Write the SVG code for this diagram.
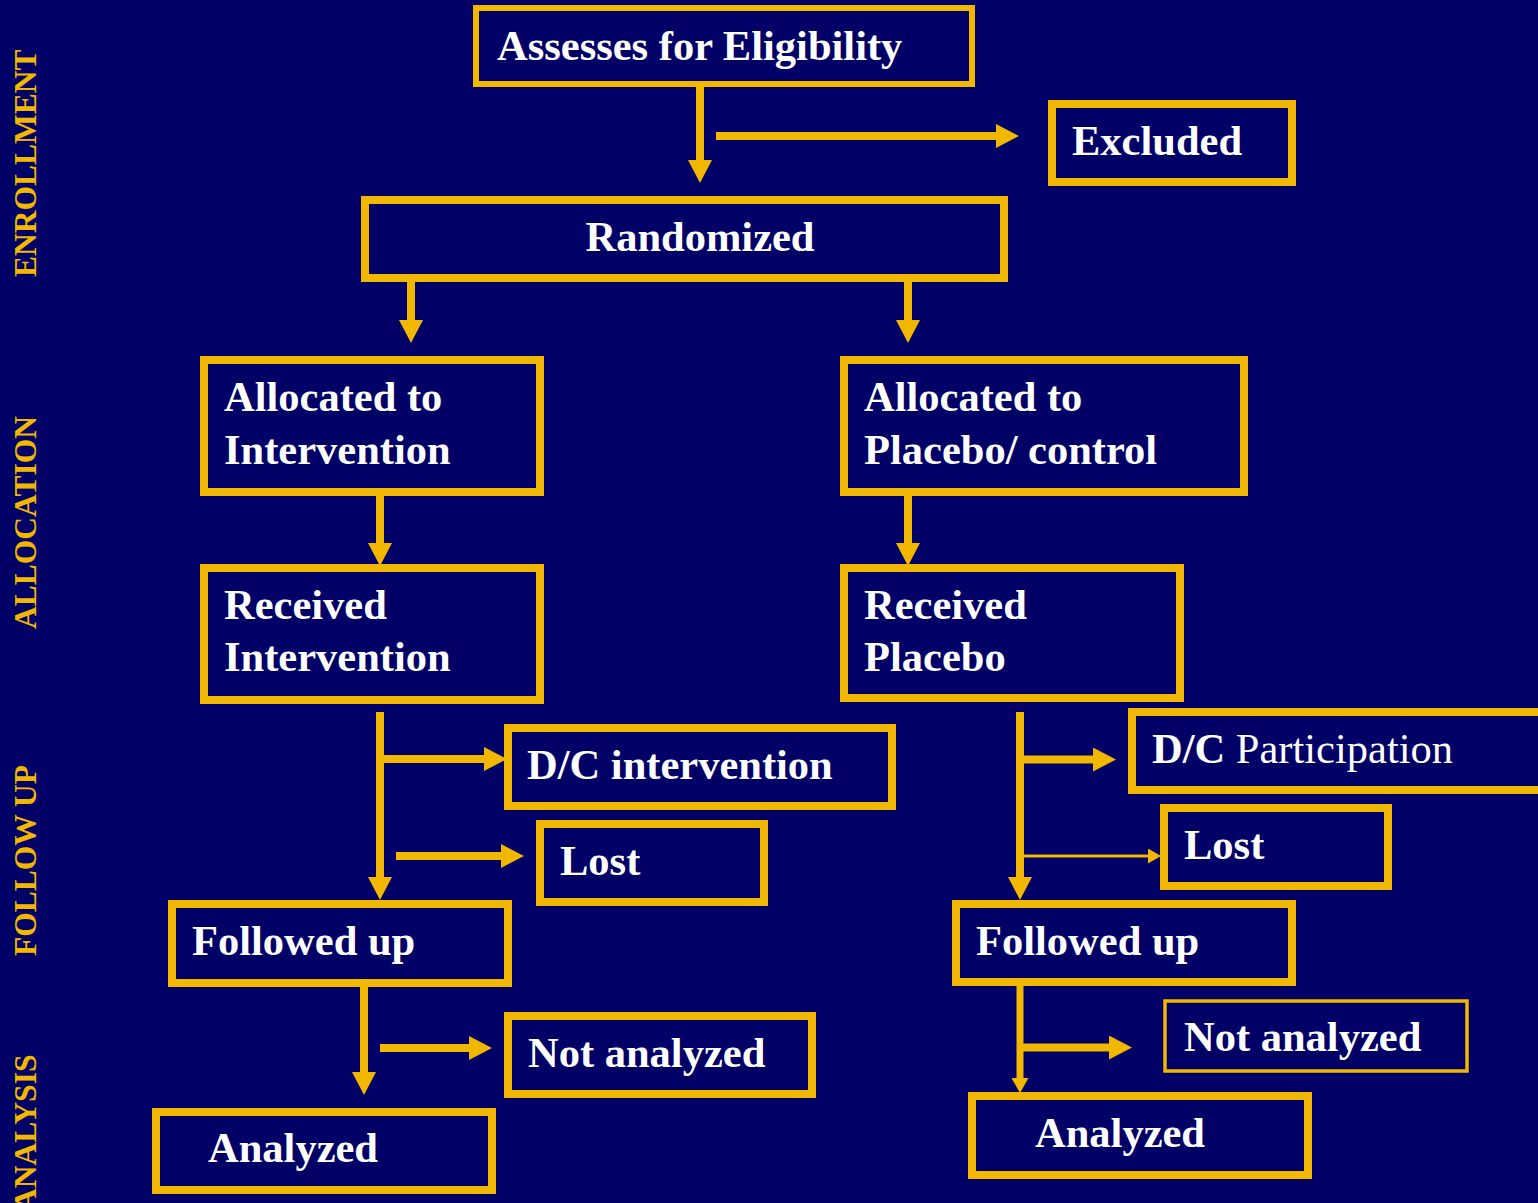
<svg xmlns="http://www.w3.org/2000/svg" width="1538" height="1203" viewBox="0 0 1538 1203">
<style>
.box{fill:#000066;stroke:#F2B800;stroke-width:8}
.t{font-family:"Liberation Serif","Times New Roman",serif;font-weight:bold;font-size:42.5px;fill:#FFFFFF}
.n{font-weight:normal}
.side{font-family:"Liberation Serif","Times New Roman",serif;font-weight:bold;font-size:31.5px;fill:#F2B800}
.c{stroke:#F2B800;stroke-width:8;fill:none}
</style>
<defs>
<marker id="ah" markerUnits="userSpaceOnUse" markerWidth="24" markerHeight="24" refX="1" refY="12" orient="auto">
<path d="M0,0 L23,12 L0,24 z" fill="#F2B800"/>
</marker>
<marker id="ahs" markerUnits="userSpaceOnUse" markerWidth="17" markerHeight="17" refX="1" refY="8.5" orient="auto">
<path d="M0,0 L15,8.5 L0,17 z" fill="#F2B800"/>
</marker>
<marker id="aht" markerUnits="userSpaceOnUse" markerWidth="15" markerHeight="15" refX="1" refY="7.5" orient="auto">
<path d="M0,0 L13,7.5 L0,15 z" fill="#F2B800"/>
</marker>
</defs>
<rect width="1538" height="1203" fill="#000066"/>
<g id="labels">
<text class="side" transform="translate(36,277) rotate(-90)">ENROLLMENT</text>
<text class="side" transform="translate(36,629) rotate(-90)">ALLOCATION</text>
<text class="side" transform="translate(36,956) rotate(-90)">FOLLOW UP</text>
<text class="side" transform="translate(36,1211) rotate(-90)">ANALYSIS</text>
</g>
<g id="connectors">
<line class="c" x1="700" y1="84" x2="700" y2="161" marker-end="url(#ah)"/>
<line class="c" x1="716" y1="136" x2="997" y2="136" marker-end="url(#ah)"/>
<line class="c" x1="411" y1="278" x2="411" y2="321" marker-end="url(#ah)"/>
<line class="c" x1="908" y1="278" x2="908" y2="321" marker-end="url(#ah)"/>
<line class="c" x1="380" y1="490" x2="380" y2="544" marker-end="url(#ah)"/>
<line class="c" x1="908" y1="490" x2="908" y2="544" marker-end="url(#ah)"/>
<line class="c" x1="380" y1="712" x2="380" y2="878" marker-end="url(#ah)"/>
<line class="c" x1="380" y1="759" x2="485" y2="759" marker-end="url(#ah)"/>
<line class="c" x1="396" y1="856" x2="502" y2="856" marker-end="url(#ah)"/>
<line class="c" x1="1020" y1="712" x2="1020" y2="878" marker-end="url(#ah)"/>
<line class="c" x1="1020" y1="759.5" x2="1094" y2="759.5" marker-end="url(#ah)"/>
<line class="c" style="stroke-width:3" x1="1020" y1="856" x2="1149" y2="856" marker-end="url(#aht)"/>
<line class="c" x1="364" y1="983" x2="364" y2="1073" marker-end="url(#ah)"/>
<line class="c" x1="380" y1="1048" x2="470" y2="1048" marker-end="url(#ah)"/>
<line class="c" style="stroke-width:7" x1="1020" y1="982" x2="1020" y2="1079" marker-end="url(#ahs)"/>
<line class="c" x1="1020" y1="1047.5" x2="1110" y2="1047.5" marker-end="url(#ah)"/>
</g>
<g id="assess"><rect class="box" style="stroke-width:6" x="476" y="8" width="496" height="76"/><text class="t" x="497" y="60">Assesses for Eligibility</text></g>
<g id="excluded"><rect class="box" x="1052" y="104" width="240" height="78"/><text class="t" x="1072" y="155">Excluded</text></g>
<g id="randomized"><rect class="box" x="365" y="200" width="639" height="78"/><text class="t" x="700" y="251" text-anchor="middle">Randomized</text></g>
<g id="alloc-int"><rect class="box" x="204" y="360" width="336" height="132"/><text class="t" x="224" y="411">Allocated to</text><text class="t" x="224" y="464">Intervention</text></g>
<g id="alloc-plac"><rect class="box" x="844" y="360" width="400" height="132"/><text class="t" x="864" y="411">Allocated to</text><text class="t" x="864" y="464">Placebo/ control</text></g>
<g id="rec-int"><rect class="box" x="204" y="568" width="336" height="132"/><text class="t" x="224" y="619">Received</text><text class="t" x="224" y="671">Intervention</text></g>
<g id="rec-plac"><rect class="box" x="844" y="568" width="336" height="130"/><text class="t" x="864" y="619">Received</text><text class="t" x="864" y="671">Placebo</text></g>
<g id="dc-int"><rect class="box" x="508" y="728" width="384" height="78"/><text class="t" x="527" y="779">D/C intervention</text></g>
<g id="lost-l"><rect class="box" x="540" y="824" width="224" height="78"/><text class="t" x="560" y="875">Lost</text></g>
<g id="dc-part"><rect class="box" x="1132" y="712" width="420" height="78"/><text class="t" x="1152" y="763">D/C <tspan class="n">Participation</tspan></text></g>
<g id="lost-r"><rect class="box" x="1164" y="808" width="224" height="78"/><text class="t" x="1184" y="859">Lost</text></g>
<g id="fu-l"><rect class="box" x="172" y="904" width="336" height="79"/><text class="t" x="192" y="955">Followed up</text></g>
<g id="fu-r"><rect class="box" x="956" y="904" width="336" height="78"/><text class="t" x="976" y="955">Followed up</text></g>
<g id="na-l"><rect class="box" x="508" y="1016" width="304" height="78"/><text class="t" x="528" y="1067">Not analyzed</text></g>
<g id="na-r"><rect class="box" style="stroke-width:3.5" x="1165" y="1001" width="302" height="70"/><text class="t" x="1184" y="1051">Not analyzed</text></g>
<g id="an-l"><rect class="box" x="156" y="1112" width="336" height="78"/><text class="t" x="208" y="1162">Analyzed</text></g>
<g id="an-r"><rect class="box" x="972" y="1096" width="336" height="79"/><text class="t" x="1035" y="1147">Analyzed</text></g>
</svg>
